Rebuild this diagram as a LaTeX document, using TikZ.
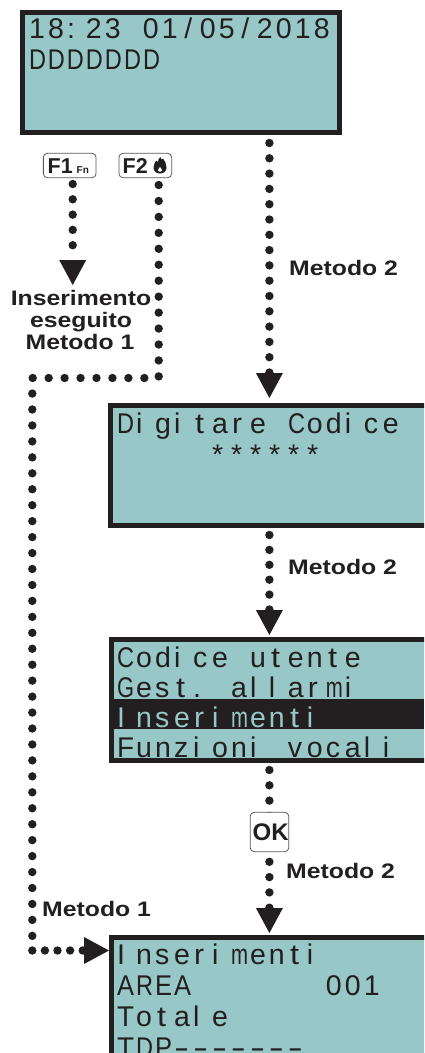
\documentclass[tikz,border=0pt]{standalone}
\usepackage{fontspec}
\usetikzlibrary{arrows.meta,calc}
\setmainfont{Liberation Sans}
\newfontfamily\lcdfont{Liberation Sans}
\newfontfamily\lblfont[FakeStretch=1.18]{Liberation Sans Bold}
\definecolor{ink}{HTML}{231F20}
\definecolor{lcdteal}{HTML}{97C7C6}
\makeatletter
\newsavebox{\lcdcell}
\def\lcdt{t}\def\lcdr{r}\def\lcdslash{/}\def\lcddash{-}
\newcommand{\lcdfit}[1]{\resizebox{#1}{\height}{\usebox{\lcdcell}}}
\newcommand{\lcdglyph}[1]{\sbox{\lcdcell}{#1}%
  \ifx#1\lcdt\hspace{2pt}\lcdfit{9pt}\else
  \ifx#1\lcdr\hspace{1pt}\lcdfit{10pt}\else
  \ifx#1\lcdslash\hspace{3.5pt}\usebox{\lcdcell}\else
  \ifx#1\lcddash\lcdfit{15pt}\else
  \ifdim\wd\lcdcell>17pt\lcdfit{17pt}\else\usebox{\lcdcell}\fi
  \fi\fi\fi\fi}
\newcommand{\lcd}[1]{\@tfor\lcdch:=#1\do{\makebox[19pt][l]{\lcdglyph{\lcdch}}}}
\makeatother
\tikzset{
  lcdbox/.style={draw=ink,fill=lcdteal,line width=5pt,rectangle,outer sep=2.5pt,inner sep=0pt},
  lcdline/.style={anchor=base west,inner sep=0pt,outer sep=0pt,text=ink,font=\lcdfont\fontsize{28.5}{30}\selectfont},
  lbl/.style={anchor=base west,inner sep=0pt,text=ink,font=\lblfont\fontsize{21}{22}\selectfont},
  keybox/.style={draw=ink!75,fill=white,line width=0.8pt,rounded corners=4pt,rectangle,inner sep=0pt,outer sep=0pt},
  keytext/.style={anchor=base west,inner sep=0pt,text=ink,font=\bfseries\fontsize{#1}{#1}\selectfont},
  dotline/.style={draw=ink,line width=8.4pt,line cap=round,dash pattern=on 0pt off #1},
  dotarrow/.style={dotline=#1,-{Triangle[width=27pt,length=25pt,line width=0pt]}}
}
\begin{document}
\begin{tikzpicture}[x=1pt,y=-1pt]
\clip (0,0) rectangle (424,1053);
\fill[white] (0,0) rectangle (424,1053);

% LCD boxes
\node[lcdbox,minimum width=317pt,minimum height=120pt] (lcdA) at (181,72.5) {};
\node[lcdbox,minimum width=323.5pt,minimum height=120pt] (lcdB) at (272.25,465.5) {};
\node[lcdbox,minimum width=322.5pt,minimum height=121pt] (lcdC) at (272.75,700) {};
\node[lcdbox,minimum width=322.5pt,minimum height=162.5pt] (lcdD) at (272.75,1018.75) {};
\node[fill=ink,inner sep=0pt,minimum width=311pt,minimum height=30pt] (bar) at (268.5,714) {};

% LCD text
\node[lcdline] (a1) at (29,38) {\lcd{18:23~01/05/2018}};
\node[lcdline] (a2) at (29,69) {\lcd{DDDDDDD}};
\node[lcdline] (b1) at (117,433) {\lcd{Digitare~Codice}};
\node[lcdline] (b2) at (212,464) {\lcd{******}};
\node[lcdline] (c1) at (117,667) {\lcd{Codice~utente}};
\node[lcdline] (c2) at (117,697) {\lcd{Gest.~allarmi}};
\node[lcdline,text=lcdteal] (c3) at (117,727) {\lcd{Inserimenti}};
\node[lcdline] (c4) at (117,757) {\lcd{Funzioni~vocali}};
\node[lcdline] (d1) at (117,964) {\lcd{Inserimenti}};
\node[lcdline] (d2) at (117,995) {\lcd{AREA~~~~~~~001}};
\node[lcdline] (d3) at (117,1026) {\lcd{Totale}};
\node[lcdline] (d4) at (117,1057) {\lcd{TDP-------}};

% Free ends of the connectors
\coordinate (sAB) at (269.4,143);
\coordinate (sBC) at (269.4,535);
\coordinate (sCD) at (269.4,770);
\coordinate (sF1) at (72.7,184);
\coordinate (eF1) at (72.7,285);
\coordinate (sF2) at (158.7,185);
\coordinate (cF2) at (158.7,378);
\coordinate (cLeft) at (32.3,378);
\coordinate (cLow) at (32.3,950.5);

% Connectors
\draw[dotarrow=15.3pt] (sAB) -- ($(lcdB.north -| sAB)+(0,-5)$);
\draw[dotarrow=14.9pt] (sBC) -- ($(lcdC.north -| sBC)+(0,-2)$);
\draw[dotarrow=15.3pt] (sCD) -- ($(lcdD.north -| sCD)+(0,-2)$);
\draw[dotarrow=15.3pt] (sF1) -- (eF1);
\draw[dotline=15.95pt] (sF2) -- (cF2) -- (cLeft) -- (cLow);
\draw[dotarrow=12.6pt] (cLow) -- (lcdD.west |- cLow);

% Keys
\node[keybox,minimum width=52.7pt,minimum height=24.4pt] (keyF1) at (69.7,165.5) {};
\node[keytext=21.5] (keyF1a) at (47.5,173.5) {F1};
\node[keytext=10] (keyF1b) at (76.5,173.5) {Fn};
\node[keybox,minimum width=52.7pt,minimum height=24.4pt] (keyF2) at (145.3,165.5) {};
\node[keytext=21.5] (keyF2a) at (122.5,173.5) {F2};
\fill[ink] (160.5,157) .. controls (161,160) and (162.5,160) .. (163,158.5)
  .. controls (165,161) and (166.5,164) .. (166.5,167.5)
  .. controls (166.5,171.5) and (163.5,173.5) .. (160,173.5)
  .. controls (156.5,173.5) and (153.5,171.5) .. (153.5,167.5)
  .. controls (153.5,164.5) and (155,163) .. (156,160.5)
  .. controls (157,161.5) and (157.5,162) .. (157.8,162)
  .. controls (158,160) and (159,158) .. (160.5,157) -- cycle;
\fill[white] (160,167) .. controls (160.7,168.3) and (162,169) .. (162,170)
  .. controls (162,171.2) and (161,171.7) .. (160,171.7)
  .. controls (159,171.7) and (158,171.2) .. (158,170)
  .. controls (158,169) and (159.3,168.3) .. (160,167) -- cycle;
\node[keybox,minimum width=38.5pt,minimum height=39.5pt] (keyOK) at (269.5,832) {};
\node[keytext=24] (keyOKa) at (252.5,840.5) {OK};

% Labels
\node[lbl] (m2a) at (289,275) {Metodo 2};
\node[lbl] (m2b) at (288,574) {Metodo 2};
\node[lbl] (m2c) at (286,878) {Metodo 2};
\node[lbl] (m1) at (42,916) {Metodo 1};
\node[lbl,anchor=base] (ins1) at (81,305) {Inserimento};
\node[lbl,anchor=base] (ins2) at (81,327) {eseguito};
\node[lbl,anchor=base] (ins3) at (80,349) {Metodo 1};
\end{tikzpicture}
\end{document}
